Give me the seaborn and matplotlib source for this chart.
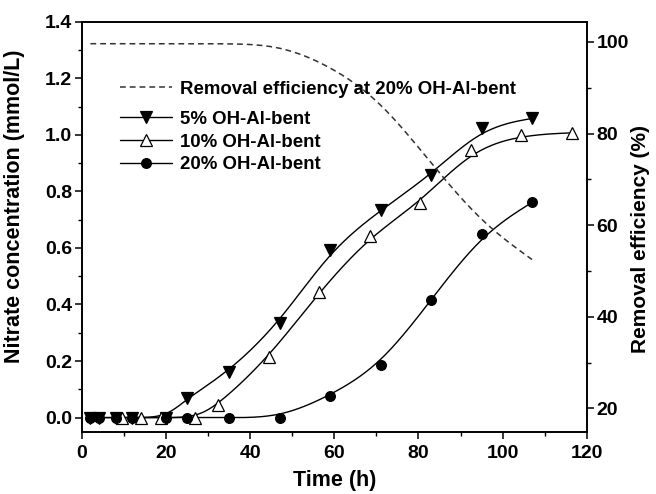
import numpy as np
import pandas as pd
import matplotlib
matplotlib.use("Agg")
import matplotlib.pyplot as plt
from matplotlib.lines import Line2D
from matplotlib.ticker import MultipleLocator
import seaborn as sns

# ---- data ----
time_a = [2, 4, 8, 12, 20, 25, 35, 47, 59, 71, 83, 95, 107]
conc_5 = [0, 0, 0, 0, 0, 0.069, 0.163, 0.336, 0.592, 0.734, 0.858, 1.025, 1.058]
conc_20 = [0, 0, 0, 0, 0, 0, 0, 0, 0.077, 0.186, 0.416, 0.648, 0.761]
time_b = [9.4, 14, 18.7, 26.9, 32.4, 44.5, 56.4, 68.5, 80.4, 92.5, 104.4, 116.5]
conc_10 = [0, 0, 0, 0, 0.045, 0.214, 0.445, 0.642, 0.760, 0.946, 0.999, 1.007]
eff_20 = [99.6, 99.6, 99.6, 99.6, 99.6, 99.6, 99.6, 99.3, 94.8, 87.2, 73.5, 60.5, 52.5]

labels = ["5% OH-Al-bent", "10% OH-Al-bent", "20% OH-Al-bent"]
eff_label = "Removal efficiency at 20% OH-Al-bent"
x_label = "Time (h)"
y_label = "Nitrate concentration (mmol/L)"
y2_label = "Removal efficiency (%)"


def bspline(x, y, n_per=40):
    """Clamped uniform cubic B-spline using the data points as control points."""
    px = np.r_[[x[0]] * 2, x, [x[-1]] * 2].astype(float)
    py = np.r_[[y[0]] * 2, y, [y[-1]] * 2].astype(float)
    t = np.linspace(0, 1, n_per, endpoint=False)
    b0 = (1 - t) ** 3 / 6
    b1 = (3 * t ** 3 - 6 * t ** 2 + 4) / 6
    b2 = (-3 * t ** 3 + 3 * t ** 2 + 3 * t + 1) / 6
    b3 = t ** 3 / 6
    xs, ys = [], []
    for i in range(len(px) - 3):
        xs.append(b0 * px[i] + b1 * px[i + 1] + b2 * px[i + 2] + b3 * px[i + 3])
        ys.append(b0 * py[i] + b1 * py[i + 1] + b2 * py[i + 2] + b3 * py[i + 3])
    xs.append([x[-1]]); ys.append([y[-1]])
    return np.concatenate(xs), np.concatenate(ys)


sns.set_theme(style="ticks")
plt.rcParams["font.family"] = ["Liberation Sans", "DejaVu Sans"]
plt.rcParams["font.weight"] = "bold"
plt.rcParams["text.color"] = "black"
plt.rcParams["axes.labelcolor"] = "black"

fig = plt.figure(figsize=(6.56, 4.94), dpi=100)
ax = fig.add_axes([82 / 656, 1 - 432.3 / 494, (586.7 - 82) / 656, (432.3 - 21.7) / 494])
ax2 = ax.twinx()

series = [
    (time_a, conc_5, "v", "black"),
    (time_b, conc_10, "^", "white"),
    (time_a, conc_20, "o", "black"),
]
for t, c, mk, fc in series:
    bx, by = bspline(t, c)
    sns.lineplot(x=bx, y=by, ax=ax, color="black", lw=1.0, zorder=2, sort=False,
                 estimator=None)
    ax.plot(t, c, linestyle="none", marker=mk, markersize=8 if mk != "o" else 7,
            markerfacecolor=fc, markeredgecolor="black", markeredgewidth=0.9, zorder=3)

bx, by = bspline(time_a, eff_20)
sns.lineplot(x=bx, y=by, ax=ax2, color="#333333", lw=1.1, sort=False, estimator=None,
             linestyle=(0, (3.8, 2.6)))

ax.set_xlim(0, 120)
ax.set_ylim(-0.052, 1.4)
ax2.set_ylim(14.8, 104.4)

ax.xaxis.set_major_locator(MultipleLocator(20))
ax.xaxis.set_minor_locator(MultipleLocator(10))
ax.yaxis.set_minor_locator(MultipleLocator(0.1))
ax2.yaxis.set_minor_locator(MultipleLocator(10))
ax.set_yticks(np.arange(0, 1.41, 0.2))
ax.set_yticklabels([f"{v:.1f}" for v in np.arange(0, 1.41, 0.2)])
ax2.set_yticks([20, 40, 60, 80, 100])

for a in (ax, ax2):
    for s in a.spines.values():
        s.set_linewidth(1.2)
        s.set_color("black")
    a.tick_params(which="major", direction="out", length=5, width=1.1, labelsize=14,
                  color="black", labelcolor="black", pad=2)
    a.tick_params(which="minor", direction="out", length=3, width=1.0, color="black")
ax.tick_params(axis="x", pad=4)
ax.tick_params(axis="both", which="both", top=False, right=False)
ax2.tick_params(axis="y", which="both", left=False, right=True)

ax.set_xlabel(x_label, fontsize=15.5, fontweight="bold", labelpad=6)
ax.set_ylabel(y_label, fontsize=15.5, fontweight="bold")
ax.yaxis.set_label_coords(-0.112, 0.55)
ax2.set_ylabel(y2_label, fontsize=15, fontweight="bold")
ax2.yaxis.set_label_coords(1.088, 0.47)

h_eff = [Line2D([], [], color="#333333", lw=1.1, linestyle=(0, (3.8, 2.6)))]
leg1 = ax2.legend(h_eff, [eff_label], loc="center left", bbox_to_anchor=(0.075, 0.835),
                  frameon=False, borderpad=0, borderaxespad=0, handlelength=2.8,
                  handletextpad=0.45, prop={"size": 13.4, "weight": "bold"})
handles = [Line2D([], [], color="black", lw=1.0, marker=mk, markersize=8 if mk != "o" else 7,
                  markerfacecolor=fc, markeredgecolor="black", markeredgewidth=0.9)
           for _, _, mk, fc in series]
leg2 = ax2.legend(handles, labels, loc="center left", bbox_to_anchor=(0.075, 0.707),
                  frameon=False, borderpad=0, borderaxespad=0, handlelength=2.8,
                  handletextpad=0.45, labelspacing=0.3, prop={"size": 13.4, "weight": "bold"})
ax2.add_artist(leg1)

fig.savefig("out.png", dpi=100)
